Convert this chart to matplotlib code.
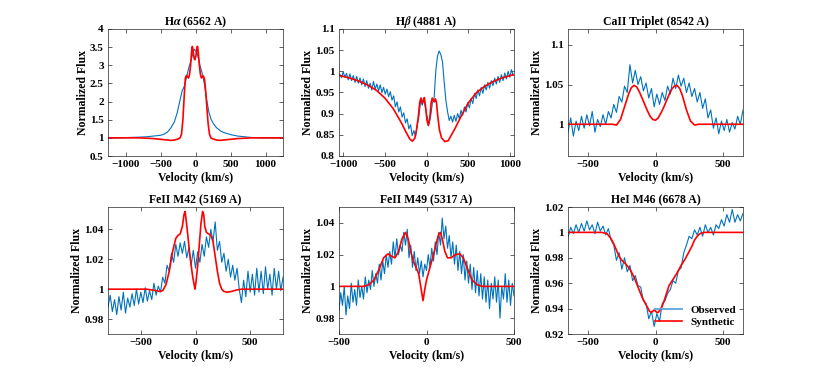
import numpy as np
import matplotlib
matplotlib.use("Agg")
import matplotlib.pyplot as plt

plt.rcParams['font.family'] = ['Liberation Serif', 'DejaVu Serif']
plt.rcParams['font.weight'] = 'bold'
plt.rcParams['mathtext.fontset'] = 'stix'
plt.rcParams['axes.labelweight'] = 'bold'
plt.rcParams['axes.titleweight'] = 'bold'

OBS_COLOR = '#0072BD'
SYN_COLOR = '#FF0000'

# ---- H alpha (6562 A) ----
ha_obs_v = [-1250, -1100, -950, -800, -700, -600, -500, -450, -400, -350,
            -300, -260, -220, -190, -160, -130, -100, -70, -40, -20,
            0, 20, 40, 70, 100, 130, 160, 190, 220, 260,
            300, 350, 400, 450, 500, 600, 700, 800, 950, 1100, 1250]
ha_obs_f = [1.0, 1.0, 1.01, 1.02, 1.03, 1.05, 1.07, 1.1, 1.16, 1.28,
            1.45, 1.7, 2.05, 2.3, 2.42, 2.65, 2.9, 3.1, 3.3, 3.45,
            3.4, 3.35, 3.2, 2.95, 2.75, 2.45, 2.05, 1.72, 1.52, 1.38,
            1.28, 1.2, 1.15, 1.12, 1.09, 1.05, 1.03, 1.01, 1.0, 1.0, 1.0]
ha_syn_v = [-1250, -800, -600, -500, -400, -350, -300, -250, -220, -200,
            -180, -160, -145, -130, -115, -100, -85, -70, -55, -45,
            -35, -20, -10, 5, 20, 30, 40, 55, 70, 85,
            100, 115, 130, 145, 160, 180, 200, 220, 250, 300,
            350, 400, 500, 600, 800, 1250]
ha_syn_f = [1.0, 1.0, 0.98, 0.96, 0.94, 0.93, 0.94, 0.97, 1.0, 1.1,
            1.5, 2.2, 2.65, 2.72, 2.68, 2.65, 2.75, 3.0, 3.4, 3.52,
            3.4, 3.2, 3.15, 3.25, 3.5, 3.52, 3.35, 3.0, 2.75, 2.65,
            2.7, 2.7, 2.6, 2.3, 1.9, 1.4, 1.1, 1.0, 0.97, 0.94,
            0.93, 0.94, 0.96, 0.98, 1.0, 1.0]

# ---- H beta (4881 A) ----  observed sampled every 20 km/s from -1040
hb_obs_f = [0.993, 0.985, 0.999, 0.986, 0.995, 0.980, 0.994, 0.978, 0.990, 0.974,
            0.988, 0.972, 0.984, 0.968, 0.982, 0.964, 0.978, 0.960, 0.972, 0.956,
            0.976, 0.958, 0.970, 0.954, 0.968, 0.950, 0.962, 0.946, 0.958, 0.940,
            0.952, 0.932, 0.942, 0.916, 0.928, 0.904, 0.916, 0.892, 0.902, 0.878,
            0.888, 0.864, 0.874, 0.848, 0.860, 0.846, 0.872, 0.895, 0.930, 0.920,
            0.934, 0.910, 0.890, 0.876, 0.895, 0.925, 0.935, 1.000, 1.035, 1.048,
            1.040, 1.022, 0.975, 0.932, 0.905, 0.884, 0.894, 0.880, 0.896, 0.882,
            0.900, 0.888, 0.908, 0.896, 0.916, 0.904, 0.926, 0.914, 0.936, 0.924,
            0.948, 0.936, 0.956, 0.942, 0.962, 0.948, 0.968, 0.956, 0.974, 0.960,
            0.978, 0.966, 0.984, 0.970, 0.988, 0.974, 0.992, 0.978, 0.996, 0.982,
            1.000, 0.986, 1.004, 0.990]
hb_syn_v = [-1040, -900, -800, -700, -600, -500, -400, -300, -250, -200,
            -170, -140, -120, -100, -80, -66, -50, -40, -26, -10,
            5, 22, 40, 55, 69, 85, 95, 108, 120, 135,
            155, 180, 220, 260, 300, 350, 400, 500, 600, 700,
            800, 900, 1040]
hb_syn_f = [0.99, 0.983, 0.976, 0.967, 0.955, 0.937, 0.912, 0.878, 0.858, 0.840,
            0.835, 0.842, 0.862, 0.890, 0.928, 0.937, 0.925, 0.930, 0.938, 0.915,
            0.885, 0.872, 0.890, 0.925, 0.937, 0.930, 0.928, 0.935, 0.925, 0.895,
            0.862, 0.843, 0.834, 0.836, 0.850, 0.868, 0.888, 0.925, 0.950, 0.965,
            0.976, 0.984, 0.992]

# ---- CaII Triplet (8542 A) ----  observed every 20 km/s from -650
ca_obs_f = [0.990, 1.008, 0.985, 1.004, 0.992, 1.010, 0.995, 1.012, 0.998, 1.016,
            0.990, 1.006, 0.997, 1.012, 1.000, 1.016, 1.008, 1.025, 1.015, 1.035,
            1.028, 1.048, 1.040, 1.075, 1.052, 1.068, 1.050, 1.060, 1.042, 1.052,
            1.033, 1.045, 1.022, 1.038, 1.025, 1.040, 1.030, 1.048, 1.038, 1.058,
            1.045, 1.062, 1.048, 1.058, 1.040, 1.052, 1.035, 1.045, 1.028, 1.040,
            1.020, 1.032, 1.008, 1.018, 0.995, 1.008, 0.988, 1.004, 0.992, 1.006,
            0.990, 1.002, 0.994, 1.010, 1.000, 1.018]
ca_syn_v = [-650, -320, -290, -260, -230, -200, -180, -160, -140, -120,
            -100, -80, -60, -40, -20, 0, 20, 40, 60, 80,
            100, 120, 140, 160, 180, 200, 230, 260, 290, 320, 650]
ca_syn_f = [1.0, 1.0, 0.999, 1.006, 1.022, 1.038, 1.046, 1.049, 1.047, 1.041,
            1.033, 1.025, 1.017, 1.010, 1.006, 1.005, 1.008, 1.014, 1.021, 1.029,
            1.037, 1.044, 1.048, 1.049, 1.045, 1.036, 1.018, 1.004, 0.999, 1.0, 1.0]

# ---- FeII M42 (5169 A) ----  observed every 20 km/s from -800
fe42_obs_f = [0.988, 0.996, 0.985, 0.993, 0.983, 0.995, 0.986, 0.998, 0.984, 0.994,
              0.988, 0.997, 0.989, 1.000, 0.990, 0.998, 0.991, 1.001, 0.992, 0.999,
              0.993, 1.004, 0.996, 1.002, 0.998, 1.008, 1.004, 1.016, 1.012, 1.024,
              1.018, 1.030, 1.022, 1.031, 1.024, 1.032, 1.021, 1.028, 1.016, 1.026,
              1.014, 1.025, 1.018, 1.030, 1.022, 1.035, 1.028, 1.040, 1.032, 1.045,
              1.026, 1.032, 1.018, 1.024, 1.012, 1.020, 1.008, 1.016, 1.006, 1.014,
              1.000, 0.991, 1.006, 0.995, 1.012, 0.998, 1.010, 0.996, 1.014, 0.998,
              1.012, 0.997, 1.015, 1.000, 1.010, 0.996, 1.014, 1.000, 1.012, 0.999,
              1.008]
fe42_syn_v = [-800, -450, -400, -360, -330, -300, -270, -240, -210, -180,
              -160, -140, -120, -105, -95, -85, -70, -55, -40, -25,
              -10, -5, 5, 20, 35, 50, 65, 75, 85, 100,
              120, 140, 160, 180, 200, 220, 240, 260, 290, 330,
              380, 420, 800]
fe42_syn_f = [1.0, 1.0, 0.9995, 0.999, 0.9985, 0.999, 1.003, 1.012, 1.025, 1.034,
              1.036, 1.037, 1.042, 1.050, 1.052, 1.046, 1.036, 1.025, 1.016, 1.008,
              1.002, 1.0, 1.005, 1.016, 1.030, 1.044, 1.052, 1.050, 1.042, 1.038,
              1.037, 1.036, 1.032, 1.022, 1.012, 1.004, 1.0, 0.9985, 0.998, 0.9985,
              0.9995, 1.0, 1.0]

# ---- FeII M49 (5317 A) ----  observed every 10 km/s from -500
fe49_obs_f = [0.985, 0.996, 0.988, 1.000, 0.982, 0.994, 0.986, 1.002, 0.990, 0.998,
              0.988, 1.004, 0.993, 1.000, 0.992, 1.006, 0.996, 1.004, 0.998, 1.010,
              1.000, 1.008, 1.002, 1.014, 1.004, 1.016, 1.008, 1.020, 1.012, 1.022,
              1.014, 1.028, 1.018, 1.030, 1.020, 1.026, 1.022, 1.034, 1.026, 1.036,
              1.018, 1.026, 1.012, 1.022, 1.010, 1.018, 1.008, 1.016, 1.006, 1.014,
              1.010, 1.020, 1.012, 1.024, 1.016, 1.028, 1.020, 1.034, 1.026, 1.043,
              1.030, 1.038, 1.024, 1.032, 1.018, 1.028, 1.014, 1.026, 1.010, 1.022,
              1.008, 1.020, 1.004, 1.016, 1.002, 1.014, 0.998, 1.012, 0.996, 1.010,
              0.994, 1.008, 0.992, 1.006, 0.990, 1.004, 0.986, 1.002, 0.992, 1.006,
              0.990, 1.004, 0.980, 1.000, 0.992, 1.008, 0.990, 1.004, 0.988, 1.002,
              0.994]
fe49_syn_v = [-500, -360, -330, -300, -270, -245, -220, -200, -180, -160,
              -140, -120, -105, -90, -75, -60, -45, -30, -20, -10,
              0, 15, 30, 45, 60, 70, 80, 90, 105, 120,
              140, 165, 190, 210, 235, 260, 290, 320, 360, 500]
fe49_syn_f = [1.0, 1.0, 1.001, 1.004, 1.011, 1.018, 1.0205, 1.019, 1.018, 1.022,
              1.030, 1.034, 1.030, 1.022, 1.016, 1.012, 1.008, 0.998, 0.991, 0.998,
              1.004, 1.010, 1.016, 1.022, 1.029, 1.033, 1.034, 1.030, 1.022, 1.018,
              1.018, 1.020, 1.0205, 1.018, 1.011, 1.004, 1.001, 1.0, 1.0, 1.0]

# ---- HeI M46 (6678 A) ----  observed every 20 km/s from -650
he_obs_f = [0.996, 1.004, 0.999, 1.006, 1.000, 1.007, 1.001, 1.009, 1.002, 1.006,
            0.999, 1.008, 1.001, 1.005, 0.998, 1.003, 0.994, 0.990, 0.978, 0.984,
            0.971, 0.980, 0.969, 0.974, 0.962, 0.966, 0.958, 0.957, 0.946, 0.944,
            0.932, 0.938, 0.926, 0.936, 0.930, 0.944, 0.946, 0.952, 0.955, 0.962,
            0.960, 0.970, 0.972, 0.984, 0.990, 0.997, 0.995, 1.002, 0.998, 1.004,
            0.997, 1.006, 1.000, 1.004, 0.998, 1.006, 1.003, 1.010, 1.005, 1.014,
            1.008, 1.018, 1.008, 1.014, 1.009, 1.015]
he_syn_v = [-650, -400, -360, -330, -310, -290, -270, -250, -220, -190,
            -160, -130, -100, -80, -60, -45, -30, -20, -10, 0,
            10, 20, 35, 50, 70, 100, 130, 160, 190, 220,
            250, 270, 290, 310, 330, 360, 400, 650]
he_syn_f = [1.0, 1.0, 0.999, 0.995, 0.991, 0.986, 0.981, 0.978, 0.975, 0.971,
            0.965, 0.957, 0.949, 0.945, 0.941, 0.938, 0.937, 0.938, 0.939, 0.938,
            0.937, 0.937, 0.939, 0.942, 0.948, 0.958, 0.963, 0.968, 0.974, 0.979,
            0.985, 0.989, 0.994, 0.997, 0.999, 1.0, 1.0, 1.0]

panels = [
    ('H$\\alpha$ (6562 A)', ha_obs_v, ha_obs_f, ha_syn_v, ha_syn_f,
     (-1250, 1250), (0.5, 4), [-1000, -500, 0, 500, 1000], np.arange(0.5, 4.01, 0.5)),
    ('H$\\beta$ (4881 A)', np.linspace(-1040, 1040, len(hb_obs_f)), hb_obs_f, hb_syn_v, hb_syn_f,
     (-1050, 1050), (0.8, 1.1), [-1000, -500, 0, 500, 1000], np.arange(0.8, 1.101, 0.05)),
    ('CaII Triplet (8542 A)', np.linspace(-650, 650, len(ca_obs_f)), ca_obs_f, ca_syn_v, ca_syn_f,
     (-650, 650), (0.96, 1.12), [-500, 0, 500], [1, 1.05, 1.1]),
    ('FeII M42 (5169 A)', np.linspace(-800, 800, len(fe42_obs_f)), fe42_obs_f, fe42_syn_v, fe42_syn_f,
     (-800, 800), (0.97, 1.055), [-500, 0, 500], [0.98, 1, 1.02, 1.04]),
    ('FeII M49 (5317 A)', np.linspace(-500, 500, len(fe49_obs_f)), fe49_obs_f, fe49_syn_v, fe49_syn_f,
     (-500, 500), (0.97, 1.05), [-500, 0, 500], [0.98, 1, 1.02, 1.04]),
    ('HeI M46 (6678 A)', np.linspace(-650, 650, len(he_obs_f)), he_obs_f, he_syn_v, he_syn_f,
     (-650, 650), (0.92, 1.02), [-500, 0, 500], [0.92, 0.94, 0.96, 0.98, 1, 1.02]),
]

W, H = 822, 376
fig = plt.figure(figsize=(W / 100, H / 100), dpi=100)
lefts = [108, 339, 568]
rows = [(29, 156), (207, 334)]

for i, (title, ov, of, sv, sf, xl, yl, xt, yt) in enumerate(panels):
    top, bot = rows[i // 3]
    left = lefts[i % 3]
    ax = fig.add_axes([left / W, 1 - bot / H, 175 / W, (bot - top) / H])
    ax.plot(ov, of, color=OBS_COLOR, lw=0.8, label='Observed')
    ax.plot(sv, sf, color=SYN_COLOR, lw=1.2, label='Synthetic')
    ax.set_xlim(xl)
    ax.set_ylim(yl)
    ax.set_xticks(xt)
    ax.set_yticks(yt)
    ax.set_yticklabels(['%g' % t for t in yt])
    ax.tick_params(direction='in', top=True, right=True, length=3, width=0.5,
                   labelsize=8, color='#262626', pad=3)
    for s in ax.spines.values():
        s.set_linewidth(0.5)
        s.set_color('#262626')
    ax.set_title(title, fontsize=8.5, pad=3)
    ax.set_xlabel('Velocity (km/s)', fontsize=8.5, labelpad=2)
    ax.set_ylabel('Normalized Flux', fontsize=8.5, labelpad=1)
    if i == 5:
        leg = ax.legend(loc='lower right', frameon=False, fontsize=8,
                        handlelength=2.4, borderaxespad=0.2, labelspacing=0.2)
        obs_handle = leg.get_lines()[0]
        obs_handle.set_color('#5DA5DA')
        obs_handle.set_linewidth(1.3)

fig.savefig('out.png', dpi=100)
